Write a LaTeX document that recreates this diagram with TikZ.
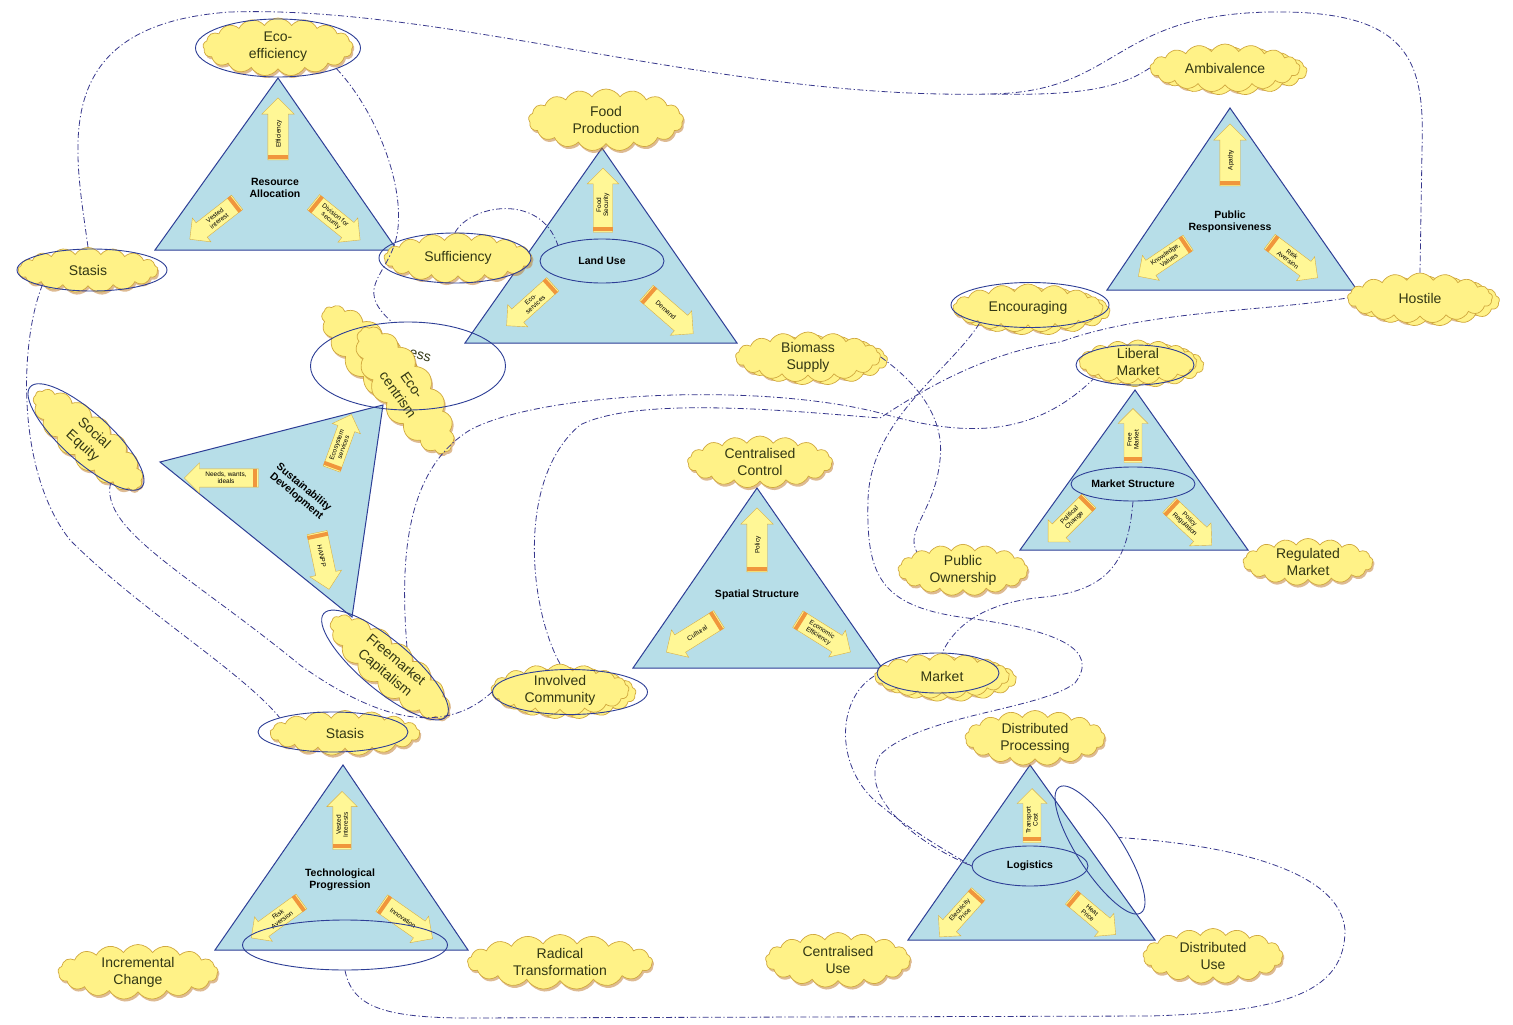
\documentclass[tikz,border=0pt]{standalone}
\usepackage{fontspec}
\setmainfont{Liberation Sans}
\usetikzlibrary{shapes.symbols,shapes.arrows,shapes.geometric,shadows,calc}
\definecolor{trifill}{RGB}{183,222,232}
\definecolor{triedge}{RGB}{45,62,150}
\definecolor{cloudfill}{RGB}{255,242,135}
\definecolor{cloudedge}{RGB}{208,168,62}
\definecolor{cloudtext}{RGB}{50,55,20}
\definecolor{shadowcol}{RGB}{190,120,40}
\definecolor{arrowfill}{RGB}{255,247,150}
\definecolor{arrowedge}{RGB}{215,175,70}
\definecolor{bandcol}{RGB}{240,150,60}
\definecolor{linkcol}{RGB}{55,55,140}
\newcommand{\solo}{\rule[-4.5pt]{0pt}{14pt}}
\newcommand{\fatarrow}[6]{%
  \node[fat,rotate=#3,shape border rotate=#4,minimum height=#5] (#1) at (#2) {#6};
  \coordinate (#1m) at ($(#1.tail)!3.5pt!(#1.tip)$);
  \draw[band] ($(#1.before tail)+(#1m)-(#1.tail)$) -- ($(#1.after tail)+(#1m)-(#1.tail)$);
}
\begin{document}
\begin{tikzpicture}[x=1pt,y=-1pt,
  tri/.style={fill=trifill,draw=triedge,line width=1pt},
  cloudy/.style={cloud,cloud puffs=17,cloud puff arc=115,cloud ignores aspect,fill=cloudfill,draw=cloudedge,line width=.7pt,inner sep=0pt,align=center,text=cloudtext,font=\fontsize{14}{17}\selectfont,drop shadow={shadow xshift=1.5pt,shadow yshift=-2.5pt,fill=shadowcol,opacity=.5}},
  twin/.style={copy shadow={shadow xshift=7pt,shadow yshift=-3pt}},
  ring/.style={ellipse,draw=triedge,line width=.9pt,inner sep=0pt},
  hub/.style={font=\bfseries\fontsize{10.5}{11.5}\selectfont,align=center,text=black},
  fat/.style={single arrow,single arrow head extend=6pt,fill=arrowfill,draw=arrowedge,line width=.4pt,inner sep=3pt,align=center,font=\fontsize{6.5}{7}\selectfont},
  band/.style={draw=bandcol,line width=4pt},
  link/.style={draw=linkcol,line width=.8pt,dash pattern=on 6pt off 2.5pt on 1.2pt off 2.5pt}]
\fill[white] (0,0) rectangle (1513,1025);
\useasboundingbox (0,0) rectangle (1513,1025);

\filldraw[tri] (278,78) -- (155,250) -- (397,250) -- cycle;
\filldraw[tri] (602,148) -- (465,343) -- (737,343) -- cycle;
\filldraw[tri] (1230,108) -- (1107,290) -- (1357,290) -- cycle;
\filldraw[tri] (160,462) -- (383,405) -- (352,617) -- cycle;
\filldraw[tri] (757,488) -- (633,668) -- (882,668) -- cycle;
\filldraw[tri] (1135,390) -- (1020,550) -- (1248,550) -- cycle;
\filldraw[tri] (343,765) -- (215,950) -- (468,950) -- cycle;
\filldraw[tri] (1030,765) -- (908,940) -- (1155,940) -- cycle;

\fatarrow{ra1}{278,134}{90}{0}{62}{\solo Efficiency}
\fatarrow{ra2}{217,218}{38}{180}{60}{Vested\\interest}
\fatarrow{ra3}{333,218}{-39}{0}{60}{Division for\\security}
\node[hub] (ralbl) at (275,188) {Resource\\Allocation};

\fatarrow{lu1}{603,205}{90}{0}{64}{Food\\Security}
\fatarrow{lu2}{533,302}{42}{180}{62}{Eco-\\services}
\fatarrow{lu3}{666,310}{-41}{0}{62}{\solo Demand}

\fatarrow{pr1}{1230,160}{90}{0}{62}{\solo Apathy}
\fatarrow{pr2}{1167,257}{34}{180}{60}{Knowledge,\\Values}
\fatarrow{pr3}{1290,257}{-37}{0}{60}{Risk\\Aversion}
\node[hub] (prlbl) at (1230,222) {Public\\Responsiveness};

\fatarrow{sd1}{226,478}{0}{180}{74}{Needs, wants,\\ideals}
\fatarrow{sd2}{340,446}{70}{0}{58}{Ecosystem\\services}
\fatarrow{sd3}{322,556}{-78}{0}{58}{\solo HANPP}
\node[hub,rotate=-40] (sdlbl) at (300,492) {Sustainability\\Development};

\fatarrow{ss1}{757,545}{90}{0}{64}{\solo Policy}
\fatarrow{ss2}{697,633}{32}{180}{62}{\solo Cultural}
\fatarrow{ss3}{820,633}{-32}{0}{62}{Economic\\Efficiency}
\node[hub] (sslbl) at (757,595) {Spatial Structure};

\fatarrow{ms1}{1133,440}{90}{0}{54}{Free\\Market}
\fatarrow{ms2}{1072,518}{45}{180}{58}{Political\\Change}
\fatarrow{ms3}{1187,522}{-43}{0}{58}{Policy\\Regulation}

\fatarrow{tp1}{342,825}{90}{0}{58}{Vested\\Interests}
\fatarrow{tp2}{280,917}{36}{180}{62}{Risk\\Aversion}
\fatarrow{tp3}{403,918}{-35}{0}{62}{\solo Innovation}
\node[hub] (tplbl) at (340,880) {Technological\\Progression};

\fatarrow{lg1}{1032,820}{90}{0}{54}{Transport\\Cost}
\fatarrow{lg2}{962,912}{48}{180}{58}{Electricity\\Price}
\fatarrow{lg3}{1090,913}{-40}{0}{58}{Heat\\Price}

\node[cloudy,minimum width=150,minimum height=58] (ecoeff) at (278,47) {Eco-\\efficiency};
\node[cloudy,minimum width=155,minimum height=62] (foodprod) at (606,120) {Food\\Production};
\node[cloudy,twin,minimum width=150,minimum height=48] (ambiv) at (1225,68) {Ambivalence};
\node[cloudy,minimum width=140,minimum height=45] (stasisl) at (88,270) {Stasis};
\node[cloudy,minimum width=148,minimum height=50] (suff) at (458,258) {Sufficiency};
\node[cloudy,twin,minimum width=145,minimum height=50] (hostile) at (1420,298) {Hostile};
\node[cloudy,twin,minimum width=150,minimum height=48] (encour) at (1028,308) {Encouraging};
\node[cloudy,twin,minimum width=145,minimum height=50] (biomass) at (808,357) {Biomass\\Supply};
\node[cloudy,rotate=-45,minimum width=150,minimum height=55] (backcloud) at (378,362) {};
\node[text=cloudtext,font=\fontsize{14}{17}\selectfont,rotate=-15] (esslbl) at (420,356) {ess};
\node[cloudy,rotate=-55,minimum width=150,minimum height=58] (ecocent) at (405,390) {Eco-\\centrism};
\node[cloudy,rotate=-42,minimum width=140,minimum height=52] (socialeq) at (88,440) {Social\\Equity};
\node[cloudy,twin,minimum width=118,minimum height=44] (liberal) at (1138,362) {Liberal\\Market};
\node[cloudy,minimum width=145,minimum height=52] (centctrl) at (760,462) {Centralised\\Control};
\node[cloudy,minimum width=130,minimum height=45] (publicown) at (963,570) {Public\\Ownership};
\node[cloudy,minimum width=130,minimum height=45] (regmkt) at (1308,562) {Regulated\\Market};
\node[cloudy,rotate=-40,minimum width=150,minimum height=52] (freemkt) at (390,667) {Freemarket\\Capitalism};
\node[cloudy,twin,minimum width=138,minimum height=45] (involved) at (560,690) {Involved\\Community};
\node[cloudy,twin,minimum width=135,minimum height=45] (market) at (942,676) {Market};
\node[cloudy,minimum width=150,minimum height=45] (stasisb) at (345,733) {Stasis};
\node[cloudy,minimum width=140,minimum height=55] (distproc) at (1035,738) {Distributed\\Processing};
\node[cloudy,minimum width=160,minimum height=55] (incr) at (138,972) {Incremental\\Change};
\node[cloudy,minimum width=185,minimum height=55] (radical) at (560,962) {Radical\\Transformation};
\node[cloudy,minimum width=145,minimum height=55] (centuse) at (838,960) {Centralised\\Use};
\node[cloudy,minimum width=140,minimum height=55] (distuse) at (1213,956) {Distributed\\Use};

\node[ring,minimum width=165,minimum height=58] (ecoeffring) at (278,48) {};
\node[ring,minimum width=150,minimum height=42] (stasisring) at (92,270) {};
\node[ring,minimum width=152,minimum height=50] (suffring) at (455,258) {};
\node[ring,hub,minimum width=124,minimum height=44] (landring) at (602,261) {Land Use};
\node[ring,minimum width=158,minimum height=45] (encouring) at (1030,305) {};
\node[ring,rotate=-42,minimum width=150,minimum height=48] (socialring) at (86,437) {};
\node[ring,minimum width=195,minimum height=88] (ecoring) at (408,366) {};
\node[ring,minimum width=118,minimum height=40] (liberalring) at (1135,365) {};
\node[ring,rotate=-40,minimum width=160,minimum height=50] (freering) at (385,665) {};
\node[ring,minimum width=155,minimum height=45] (involvedring) at (570,692) {};
\node[ring,minimum width=122,minimum height=40] (marketring) at (938,673) {};
\node[ring,minimum width=150,minimum height=40] (stasisbring) at (333,732) {};
\node[ring,hub,minimum width=124,minimum height=34] (mktring) at (1133,484) {Market Structure};
\node[ring,minimum width=205,minimum height=50] (techring) at (345,945) {};
\node[ring,hub,minimum width=116,minimum height=40] (logring) at (1030,866) {Logistics};
\node[ring,rotate=-57,minimum width=150,minimum height=45] (logtilt) at (1100,850) {};

\coordinate (dip) at (990,94);
\draw[link] (stasisl.north) .. controls (75,150) and (45,25) .. (230,12) .. controls (450,5) and (720,100) .. (dip) .. controls (1120,92) and (1110,15) .. (1270,12) .. controls (1410,10) and (1425,60) .. (1422,150) -- (hostile.north);
\draw[link] (ambiv.west) .. controls (1120,88) and (1080,96) .. (dip);
\draw[link] (ecoeffring.south east) .. controls (375,110) and (403,180) .. (398,228) .. controls (393,275) and (350,285) .. (ecoring.110);
\draw[link] (suffring.north) .. controls (470,205) and (540,192) .. (landring.north west);
\draw[link] (freemkt.north) .. controls (400,560) and (405,470) .. (470,430) .. controls (540,392) and (760,382) .. (880,413) .. controls (960,436) and (1030,440) .. (liberalring.south west);
\draw[link] (involved.north) .. controls (530,610) and (515,480) .. (580,425) .. controls (640,395) and (800,412) .. (880,418) .. controls (930,385) and (990,352) .. (1060,342) .. controls (1150,310) and (1260,312) .. (hostile.west);
\draw[link] (encour.south west) .. controls (950,370) and (870,420) .. (868,500) .. controls (866,575) and (880,605) .. (960,617) .. controls (1060,630) and (1100,650) .. (1075,683) .. controls (1040,710) and (920,715) .. (880,755) .. controls (860,790) and (900,835) .. (logring.west);
\draw[link] (biomass.east) .. controls (920,385) and (945,420) .. (940,460) .. controls (935,510) and (905,530) .. (publicown.north west);
\draw[link] (socialeq.south east) .. controls (100,530) and (190,575) .. (300,665) .. controls (370,715) and (440,740) .. (involvedring.west);
\draw[link] (stasisl.south west) .. controls (20,340) and (15,470) .. (70,540) .. controls (140,610) and (240,670) .. (stasisbring.north west);
\draw[link] (techring.south) .. controls (352,1005) and (380,1017) .. (460,1018) -- (1150,1016) .. controls (1290,1012) and (1345,990) .. (1345,930) .. controls (1340,870) and (1230,845) .. (logtilt.north);
\draw[link] (market.west) .. controls (835,700) and (835,770) .. (880,805) .. controls (910,830) and (945,850) .. (logring.west);
\draw[link] (mktring.south) .. controls (1128,560) and (1110,590) .. (1045,597) .. controls (985,602) and (955,625) .. (market.north);
\end{tikzpicture}
\end{document}
